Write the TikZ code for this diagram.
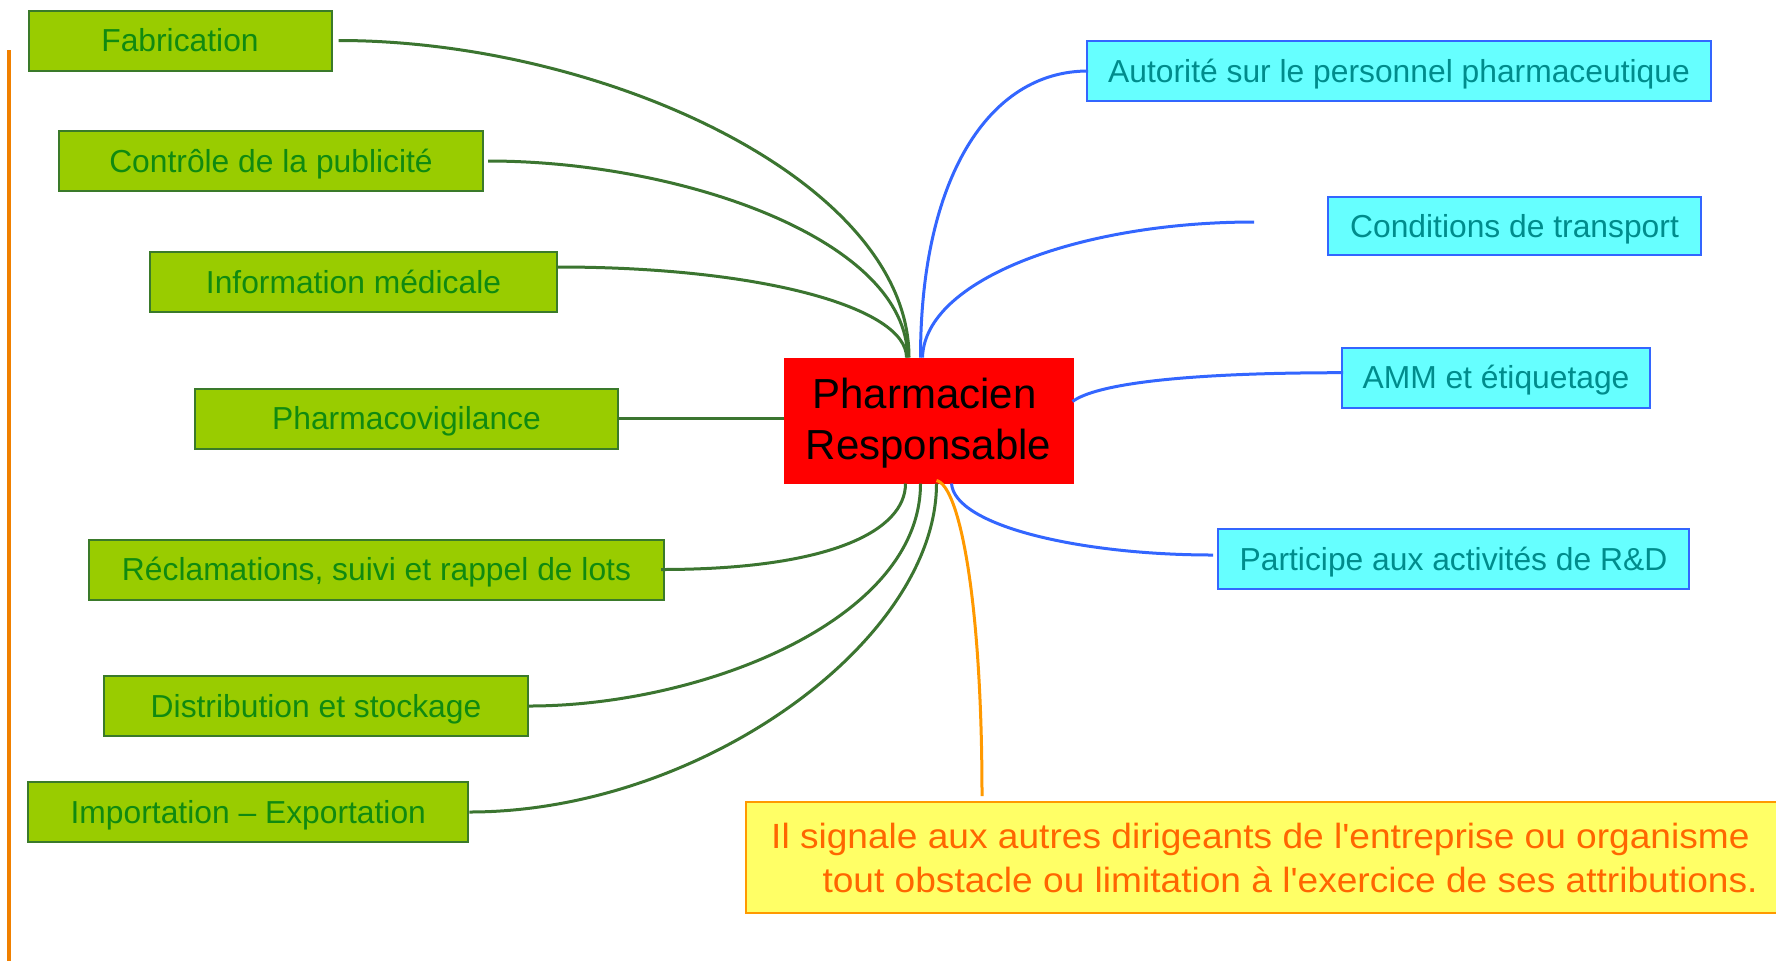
\documentclass[tikz,border=0pt]{standalone}
\usepackage{fontspec}
\setmainfont{Liberation Sans}
\newfontfamily\yfont[FakeStretch=1.06]{Liberation Sans}
\usetikzlibrary{calc}
\definecolor{gfill}{HTML}{99CC00}
\definecolor{gdraw}{HTML}{3A7A2A}
\definecolor{gtext}{HTML}{108A10}
\definecolor{gline}{HTML}{3B7530}
\definecolor{cfill}{HTML}{66FFFF}
\definecolor{cdraw}{HTML}{3366FF}
\definecolor{ctext}{HTML}{008C8C}
\definecolor{bline}{HTML}{3366FF}
\definecolor{yfill}{HTML}{FFFF66}
\definecolor{ydraw}{HTML}{FF9900}
\definecolor{ytext}{HTML}{FF6600}
\definecolor{oline}{HTML}{FF9900}
\definecolor{vline}{HTML}{F08000}
\begin{document}
\begin{tikzpicture}[x=0.5pt,y=-0.5pt,
  basebox/.style={line width=1pt, inner sep=0pt, font=\fontsize{15.9}{19}\selectfont,
    text height=11.4pt, text depth=0pt, minimum height=30pt},
  gbox/.style={basebox, draw=gdraw, fill=gfill, text=gtext},
  cbox/.style={basebox, draw=cdraw, fill=cfill, text=ctext},
  gcon/.style={draw=gline, line width=1.5pt},
  bcon/.style={draw=bline, line width=1.5pt},
  ocon/.style={draw=oline, line width=1.5pt}]
\useasboundingbox (0,0) rectangle (1776,960);
\fill[white] (0,0) rectangle (1776,960);

% left orange rule
\draw[vline, line width=2pt] (9,50) -- (9,965);

% centre
\node[fill=red, draw=red, line width=0.5pt, minimum width=144.5pt, minimum height=62.5pt,
  inner sep=0pt, align=center, font=\fontsize{21}{25.5}\selectfont]
  (pr) at (928.5,420.5) {\rule{0pt}{18.3pt}Pharmacien\hspace*{4pt}\\Responsable};

% green boxes
\node[gbox, minimum width=151.5pt] (fab)  at (180,40.5)   {Fabrication};
\node[gbox, minimum width=212pt]   (ctl)  at (271,161)    {Contrôle de la publicité};
\node[gbox, minimum width=203.5pt] (info) at (353.5,282)  {Information médicale};
\node[gbox, minimum width=211.5pt] (pv)   at (406.5,418.5){Pharmacovigilance};
\node[gbox, minimum width=287.5pt] (rec)  at (376.5,569.5){Réclamations, suivi et rappel de lots};
\node[gbox, minimum width=212pt]   (dist) at (316,706)    {Distribution et stockage};
\node[gbox, minimum width=220pt]   (imp)  at (248.3,812)  {Importation – Exportation};

% cyan boxes
\node[cbox, minimum width=312pt]   (aut)  at (1399,71)    {Autorité sur le personnel pharmaceutique};
\node[cbox, minimum width=186.5pt, minimum height=29pt] (cond) at (1514.5,226) {Conditions de transport};
\node[cbox, minimum width=154pt]   (amm)  at (1496,377.5) {AMM et étiquetage};
\node[cbox, minimum width=235.5pt] (rd)   at (1453.5,559) {Participe aux activités de R\&D};

% yellow box
\node[draw=ydraw, line width=1pt, fill=yfill, minimum width=527pt, minimum height=55.5pt,
  inner sep=0pt] (sig) at (1273,857.5) {};
\node[anchor=east, align=right, inner sep=0pt, text=ytext,
  font=\yfont\fontsize{17.5}{22}\selectfont] (sigtxt) at (1758,857.5)
  {Il signale aux autres dirigeants de l'entreprise ou organisme\hspace*{4pt}\\
   tout obstacle ou limitation à l'exercice de ses attributions.};

% free ends
\coordinate (condend) at (1254,222);
\coordinate (sigend) at (982,796);

% green connectors
\draw[gcon] ([xshift=3pt]fab.east) .. controls +(262,0) and +(0,-178) .. ($(pr.north west)+(125.5,0)$);
\draw[gcon] ([xshift=2pt]ctl.east) .. controls +(193,0) and +(0,-118) .. ($(pr.north west)+(124,0)$);
\draw[gcon] ([yshift=7.5pt]info.east) .. controls +(203,0) and +(0,-50) .. ($(pr.north west)+(123,0)$);
\draw[gcon] (pv.east) -- (pv.east -| pr.west);
\draw[gcon] ([xshift=-2pt]rec.east) .. controls +(170,0) and +(0,47) .. ($(pr.south west)+(122,0)$);
\draw[gcon] (dist.east) .. controls +(172,0) and +(0,137) .. ($(pr.south west)+(137,0)$);
\draw[gcon] (imp.east) .. controls +(232,0) and +(0,157) .. ($(pr.south west)+(153,0)$);

% blue connectors
\draw[bcon] ($(pr.north west)+(137,0)$) .. controls +(0,-178) and +(-100,0) .. ([xshift=1pt]aut.west);
\draw[bcon] ($(pr.north west)+(139,0)$) .. controls +(2,-78) and +(-174,0) .. (condend);
\draw[bcon] ($(pr.north east)+(-1,44)$) .. controls +(23,-17) and +(-164,0) .. ([xshift=1pt,yshift=2.4pt]amm.west);
\draw[bcon] ($(pr.south west)+(168,0)$) .. controls +(3,42) and +(-134,0) .. ([xshift=-2pt,yshift=2pt]rd.west);

% orange connector
\draw[ocon] ($(pr.south west)+(153,-3)$) .. controls +(23,5) and +(0,-196) .. (sigend);
\end{tikzpicture}
\end{document}
